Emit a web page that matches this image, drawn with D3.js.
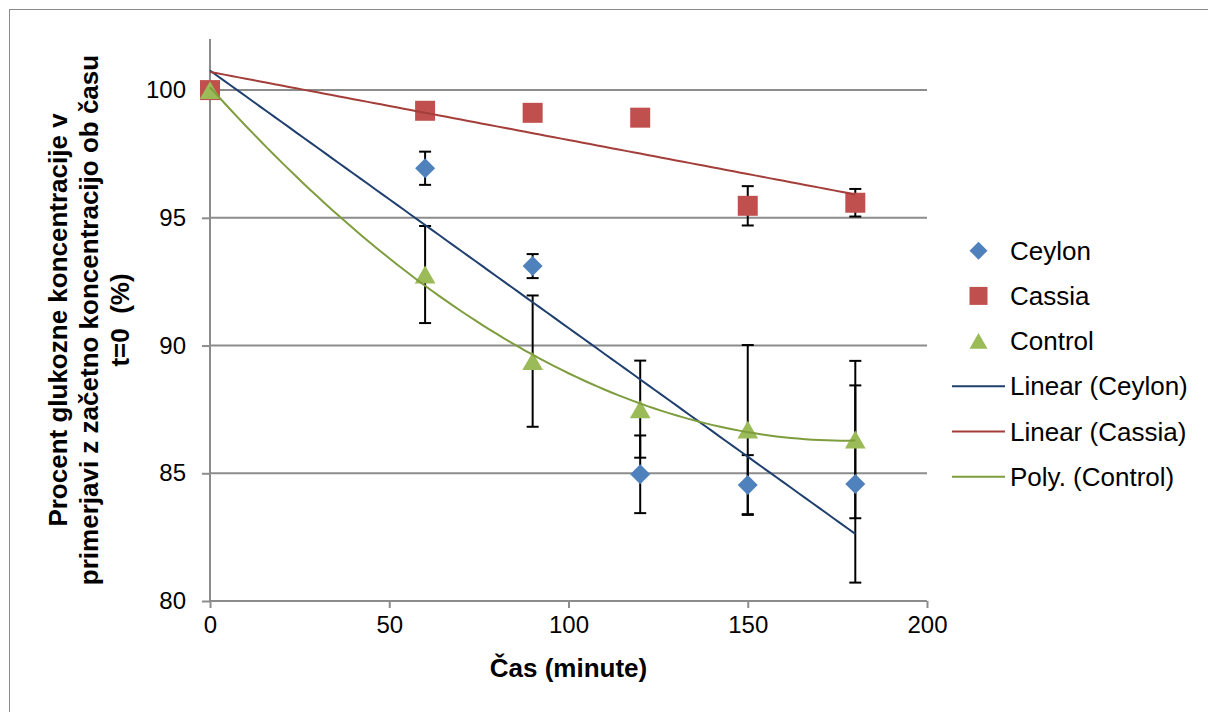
<!DOCTYPE html>
<html>
<head>
<meta charset="utf-8">
<script src="https://cdn.jsdelivr.net/npm/d3@7"></script>
<style>
  body { margin: 0; background: white; }
  text { font-family: "Liberation Sans", Arial, sans-serif; fill: #000; }
</style>
</head>
<body>
<div id="chart"></div>
<script>
const times = [0, 60, 90, 120, 150, 180];
const ceylon = [100, 96.94, 93.11, 84.96, 84.54, 84.58];
const ceylonErr = [0, 0.65, 0.47, 1.52, 1.17, 3.86];
const cassia = [100, 99.19, 99.11, 98.92, 95.47, 95.59];
const cassiaErr = [0, 0, 0, 0, 0.77, 0.54];
const control = [100, 92.78, 89.39, 87.51, 86.71, 86.32];
const controlErr = [0, 1.9, 2.57, 1.9, 3.31, 3.08];
const xTicks = [0, 50, 100, 150, 200];
const yTicks = [80, 85, 90, 95, 100];
const legendLabels = ["Ceylon", "Cassia", "Control", "Linear (Ceylon)", "Linear (Cassia)", "Poly. (Control)"];

document.addEventListener('DOMContentLoaded', () => {
  const w = 1208;
  const h = 712;

  const xScale = d3.scaleLinear().domain([0, 200]).range([210, 927]);
  const yScale = d3.scaleLinear().domain([80, 102]).range([601, 39]);

  const svg = d3.select("#chart")
    .append("svg")
    .attr("width", w)
    .attr("height", h);

  // outer frame
  svg.append("rect")
    .attr("x", 9.5)
    .attr("y", 9.5)
    .attr("width", w + 20)
    .attr("height", h + 20)
    .attr("fill", "white")
    .attr("stroke", "#8a8a8a")
    .attr("stroke-width", 1);

  // gridlines
  svg.append("g")
    .selectAll("line")
    .data(yTicks.filter(d => d > 80))
    .enter()
    .append("line")
    .attr("x1", xScale(0))
    .attr("x2", xScale(200))
    .attr("y1", d => yScale(d))
    .attr("y2", d => yScale(d))
    .attr("stroke", "#8c8c8c")
    .attr("stroke-width", 2);

  const xAxis = d3.axisBottom(xScale).tickValues(xTicks).tickSize(7).tickSizeOuter(0).tickPadding(8);
  const yAxis = d3.axisLeft(yScale).tickValues(yTicks).tickSize(8).tickSizeOuter(0).tickPadding(16);

  const gx = svg.append("g")
    .attr("transform", "translate(0, " + yScale(80) + ")")
    .call(xAxis);
  const gy = svg.append("g")
    .attr("transform", "translate(" + xScale(0) + ", 0)")
    .call(yAxis);

  [gx, gy].forEach(g => {
    g.select(".domain").attr("stroke", "#8c8c8c").attr("stroke-width", 2);
    g.selectAll(".tick line").attr("stroke", "#8c8c8c").attr("stroke-width", 2);
    g.selectAll(".tick text")
      .attr("font-size", 24)
      .attr("font-family", "Liberation Sans, Arial, sans-serif")
      .attr("fill", "#000");
  });
  gx.select(".domain").attr("d", "M" + xScale(0) + ",0H" + xScale(200));
  gy.select(".domain").attr("d", "M0," + yScale(80) + "V" + yScale(102));

  // axis titles
  svg.append("text")
    .attr("x", (xScale(0) + xScale(200)) / 2)
    .attr("y", 677)
    .attr("text-anchor", "middle")
    .attr("font-size", 26)
    .attr("font-weight", "bold")
    .text("Čas (minute)");

  const yTitle = [
    "Procent glukozne koncentracije v",
    "primerjavi z začetno koncentracijo ob času",
    "t=0  (%)"
  ];
  svg.append("g")
    .attr("transform", "translate(0, 320) rotate(-90)")
    .selectAll("text")
    .data(yTitle)
    .enter()
    .append("text")
    .attr("x", 0)
    .attr("y", (d, i) => 67 + i * 31)
    .attr("text-anchor", "middle")
    .attr("font-size", 26)
    .attr("font-weight", "bold")
    .style("white-space", "pre")
    .text(d => d);

  // sizes give ~20px markers on the plot, ~18px in the legend
  const series = [
    { name: "Ceylon", values: ceylon, err: ceylonErr, color: "#4f81bd", symbol: d3.symbolDiamond2, size: 255, legendSize: 206, dy: 0 },
    { name: "Cassia", values: cassia, err: cassiaErr, color: "#c0504d", symbol: d3.symbolSquare2, size: 509, legendSize: 413, dy: 0 },
    { name: "Control", values: control, err: controlErr, color: "#9bbb59", symbol: d3.symbolTriangle2, size: 307, legendSize: 232, dy: 3 }
  ];

  // error bars
  const errG = svg.append("g");
  series.forEach(s => {
    times.forEach((t, i) => {
      const e = s.err[i];
      if (!e) return;
      const x = xScale(t);
      const y1 = yScale(s.values[i] + e);
      const y2 = yScale(s.values[i] - e);
      errG.append("line").attr("x1", x).attr("x2", x).attr("y1", y1).attr("y2", y2)
        .attr("stroke", "#000").attr("stroke-width", 2);
      [y1, y2].forEach(y => {
        errG.append("line").attr("x1", x - 6).attr("x2", x + 6).attr("y1", y).attr("y2", y)
          .attr("stroke", "#000").attr("stroke-width", 2);
      });
    });
  });

  // markers (triangle nudged so its box is centred on the value)
  series.forEach(s => {
    svg.append("g")
      .selectAll("path")
      .data(times)
      .enter()
      .append("path")
      .attr("transform", (d, i) => "translate(" + xScale(d) + "," + (yScale(s.values[i]) + s.dy) + ")")
      .attr("d", d3.symbol().type(s.symbol).size(s.size))
      .attr("fill", s.color);
  });

  // trendlines, fitted by least squares from the data
  function polyFit(xs, ys, order) {
    const n = order + 1;
    const A = [];
    for (let r = 0; r < n; r++) {
      const row = [];
      for (let c = 0; c < n; c++) row.push(d3.sum(xs, x => Math.pow(x, r + c)));
      row.push(d3.sum(xs, (x, k) => ys[k] * Math.pow(x, r)));
      A.push(row);
    }
    for (let i = 0; i < n; i++) {
      for (let k = i + 1; k < n; k++) {
        const f = A[k][i] / A[i][i];
        for (let j = i; j <= n; j++) A[k][j] -= f * A[i][j];
      }
    }
    const coef = new Array(n).fill(0);
    for (let i = n - 1; i >= 0; i--) {
      let sum = A[i][n];
      for (let j = i + 1; j < n; j++) sum -= A[i][j] * coef[j];
      coef[i] = sum / A[i][i];
    }
    return x => coef.reduce((acc, c, p) => acc + c * Math.pow(x, p), 0);
  }

  const trends = [
    { fn: polyFit(times, ceylon, 1), color: "#1f3f6e" },
    { fn: polyFit(times, cassia, 1), color: "#a33e3a" },
    { fn: polyFit(times, control, 2), color: "#7e9d3e" }
  ];
  const line = d3.line().x(d => xScale(d[0])).y(d => yScale(d[1]));
  trends.forEach(tr => {
    const pts = d3.range(0, 180.01, 2).map(x => [x, tr.fn(x)]);
    svg.append("path")
      .attr("d", line(pts))
      .attr("fill", "none")
      .attr("stroke", tr.color)
      .attr("stroke-width", 2);
  });

  // legend
  const legend = svg.append("g");
  const legendY = d => 250.7 + d * 45.2;
  series.forEach((s, i) => {
    legend.append("path")
      .attr("transform", "translate(978.5," + (legendY(i) + s.dy * 0.8) + ")")
      .attr("d", d3.symbol().type(s.symbol).size(s.legendSize))
      .attr("fill", s.color);
  });
  trends.forEach((tr, i) => {
    legend.append("line")
      .attr("x1", 952).attr("x2", 1005)
      .attr("y1", legendY(i + 3)).attr("y2", legendY(i + 3))
      .attr("stroke", tr.color).attr("stroke-width", 2);
  });
  legend.selectAll("text")
    .data(legendLabels)
    .enter()
    .append("text")
    .attr("x", 1010)
    .attr("y", (d, i) => legendY(i) + 9)
    .attr("font-size", 26)
    .text(d => d);
});
</script>
</body>
</html>
